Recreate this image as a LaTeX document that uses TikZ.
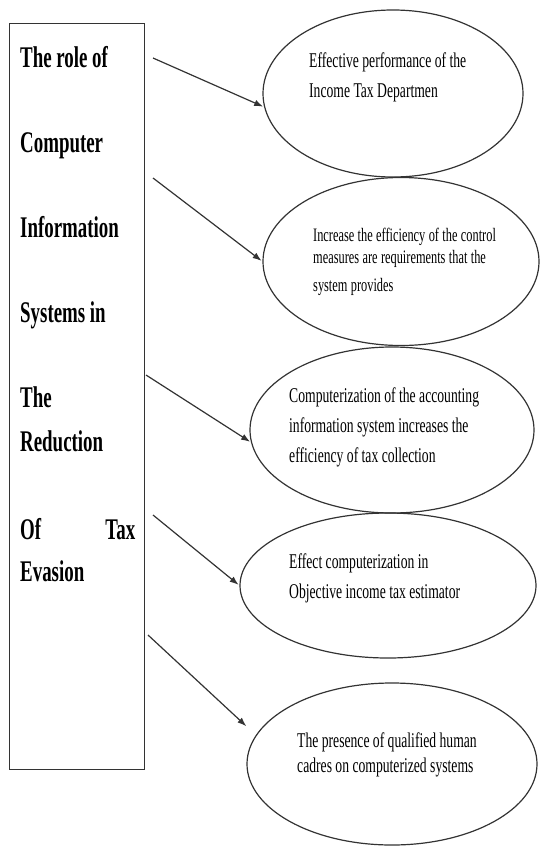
\documentclass[tikz,border=0pt]{standalone}
\usepackage{fontspec}
\setmainfont{Liberation Serif}
\newfontfamily\rolefont[FakeStretch=0.63]{Liberation Serif}
\newfontfamily\ovalfont[FakeStretch=0.65]{Liberation Serif}
\usetikzlibrary{shapes,arrows.meta}

\begin{document}
\begin{tikzpicture}[x=1pt,y=-1pt]
\tikzset{
rolebox/.style={rectangle,draw=black!80,line width=1.3pt,inner sep=0pt,anchor=north west},
roletext/.style={font=\rolefont\bfseries\fontsize{30}{85}\selectfont,text width=115pt,align=left,inner sep=0pt,anchor=base west,
  execute at begin node={\spaceskip=4.7pt plus 1pt minus 0.5pt}},
oval/.style={ellipse,draw=black!80,line width=1.2pt,inner sep=0pt},
ovaltext/.style={font=\ovalfont\fontsize{21}{30}\selectfont,text width=230pt,align=left,inner sep=0pt,anchor=base west,
  execute at begin node={\spaceskip=3.4pt plus 1pt minus 0.5pt}},
myarrow/.style={->, >={Latex[length=9pt,width=6.5pt]}, shorten >=1pt, line width=1.2pt, draw=black!80},
}
\useasboundingbox (0,0) rectangle (542,849);

\node [rolebox, minimum width=135pt, minimum height=746pt] (role) at (9,23) {};
\node [roletext] (roletitle) at (20,67) {The role of\\ Computer\\ Information\\ Systems in\\ The\\[-41pt] Reduction\\[3pt] Of \hfill Tax\\[-43pt] Evasion};

\node [oval, minimum width=260pt, minimum height=167pt] (perform) at (393,93.5) {};
\node [oval, minimum width=276pt, minimum height=168pt] (control) at (401,261.5) {};
\node [oval, minimum width=284pt, minimum height=166pt] (collect) at (392,430) {};
\node [oval, minimum width=296pt, minimum height=145pt] (estimate) at (388,585.5) {};
\node [oval, minimum width=290pt, minimum height=162pt] (cadres) at (392,764) {};

\node [ovaltext] (performtext) at (309,67) {Effective performance of the\\ Income Tax Departmen};
\node [ovaltext, font=\ovalfont\fontsize{19}{30}\selectfont] (controltext) at (313,241) {Increase the efficiency of the control\\[-8pt] measures are requirements that the\\[-2pt] system provides};
\node [ovaltext] (collecttext) at (289,402) {Computerization of the accounting\\ information system increases the\\ efficiency of tax collection};
\node [ovaltext] (estimatetext) at (289,568) {Effect computerization in\\ Objective income tax estimator};
\node [ovaltext] (cadrestext) at (297,747) {The presence of qualified human\\[-5pt] cadres on computerized systems};

\coordinate (src1) at (153,58);
\coordinate (src2) at (153,178);
\coordinate (src3) at (146,375);
\coordinate (src4) at (153,515);
\coordinate (src5) at (148,635);
\draw[myarrow] (src1) -- (perform.186);
\draw[myarrow] (src2) -- (control.180);
\draw[myarrow] (src3) -- (collect.185);
\draw[myarrow] (src4) -- (estimate.180);
\draw[myarrow, shorten >=13pt] (src5) -- (cadres.168);
\end{tikzpicture}
\end{document}
